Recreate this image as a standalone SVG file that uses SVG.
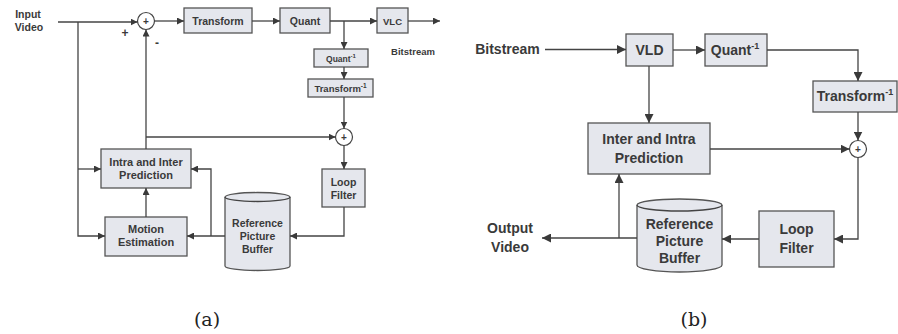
<svg xmlns="http://www.w3.org/2000/svg" width="898" height="334" viewBox="0 0 898 334">
<defs>
<marker id="ah" viewBox="0 0 10 10" refX="10" refY="5" markerWidth="7" markerHeight="7" markerUnits="userSpaceOnUse" orient="auto">
<path d="M0,0 L10,5 L0,10 Z" fill="#3a3a3a"/>
</marker>
<marker id="ahb" viewBox="0 0 10 10" refX="10" refY="5" markerWidth="9" markerHeight="9" markerUnits="userSpaceOnUse" orient="auto">
<path d="M0,0 L10,5 L0,10 Z" fill="#3a3a3a"/>
</marker>
</defs>
<style>
.box{fill:#e5e7ed;stroke:#555;stroke-width:1.3}
.sum{fill:#fff;stroke:#444;stroke-width:1.2}
.ln{fill:none;stroke:#444;stroke-width:1.3}
.ln a{}
.t{font-family:"Liberation Sans",Arial,sans-serif;font-weight:bold;fill:#3a3a3a;text-anchor:middle}
.s{font-size:10.5px}
.l{font-size:14px}
.cap{font-family:"DejaVu Serif","Liberation Serif",serif;font-size:19px;fill:#222;text-anchor:middle}
</style>
<rect width="898" height="334" fill="#fff"/>

<!-- (a) encoder -->
<g id="a-input"><text class="t s" x="28" y="18">Input</text><text class="t s" x="29" y="30.5">Video</text></g>
<g id="a-sum1"><circle class="sum" cx="146" cy="21" r="8.5"/><text class="t" x="146" y="25" font-size="10">+</text></g>
<g id="a-plus"><text class="t" x="125" y="37" font-size="12">+</text></g>
<g id="a-minus"><text class="t" x="157" y="47" font-size="12">-</text></g>
<g id="a-transform"><rect class="box" x="184" y="8" width="68" height="25"/><text class="t s" x="218" y="25">Transform</text></g>
<g id="a-quant"><rect class="box" x="280" y="8" width="50" height="25"/><text class="t s" x="305" y="25">Quant</text></g>
<g id="a-vlc"><rect class="box" x="377" y="8" width="31" height="25"/><text class="t" x="392.5" y="24.5" font-size="9.5">VLC</text></g>
<g id="a-bitstream"><text class="t" x="413" y="55" font-size="9.5">Bitstream</text></g>
<g id="a-iquant"><rect class="box" x="314" y="49" width="54" height="18"/><text class="t" x="341" y="62" font-size="8.5">Quant<tspan font-size="6" dy="-4">-1</tspan></text></g>
<g id="a-itransform"><rect class="box" x="308" y="79" width="65" height="18"/><text class="t" x="340.5" y="92" font-size="9.5">Transform<tspan font-size="6.5" dy="-4">-1</tspan></text></g>
<g id="a-sum2"><circle class="sum" cx="344" cy="137" r="8.5"/><text class="t" x="344" y="141" font-size="10">+</text></g>
<g id="a-loop"><rect class="box" x="322" y="169" width="43" height="38"/><text class="t s" x="343.5" y="185.5">Loop</text><text class="t s" x="343.5" y="198.5">Filter</text></g>
<g id="a-refbuf"><path class="box" d="M225,197 A32.5,4.5 0 0 1 290,197 V266 A32.5,4.5 0 0 1 225,266 Z"/><path class="ln" d="M225,197 A32.5,4.5 0 0 0 290,197" stroke="#555"/><text class="t s" x="257.5" y="227">Reference</text><text class="t s" x="257.5" y="240">Picture</text><text class="t s" x="257.5" y="253">Buffer</text></g>
<g id="a-pred"><rect class="box" x="101" y="149" width="90" height="39"/><text class="t" x="146" y="166" font-size="11">Intra and Inter</text><text class="t" x="146" y="178.5" font-size="11">Prediction</text></g>
<g id="a-me"><rect class="box" x="105" y="217" width="82" height="39"/><text class="t" x="146" y="233" font-size="11">Motion</text><text class="t" x="146" y="246" font-size="11">Estimation</text></g>

<!-- (b) decoder -->
<g id="b-bitstream"><text class="t l" x="507.5" y="54">Bitstream</text></g>
<g id="b-vld"><rect class="box" x="626" y="34" width="47" height="32"/><text class="t l" x="649.5" y="55">VLD</text></g>
<g id="b-iquant"><rect class="box" x="705" y="34" width="62" height="32"/><text class="t l" x="735" y="55">Quant<tspan font-size="9" dy="-6">-1</tspan></text></g>
<g id="b-itransform"><rect class="box" x="813" y="81" width="84" height="31"/><text class="t l" x="855" y="101">Transform<tspan font-size="9" dy="-6">-1</tspan></text></g>
<g id="b-sum"><circle class="sum" cx="858" cy="149" r="8.5"/><text class="t" x="858" y="153" font-size="10">+</text></g>
<g id="b-pred"><rect class="box" x="588" y="123" width="122" height="51"/><text class="t l" x="649" y="144">Inter and Intra</text><text class="t l" x="649" y="163">Prediction</text></g>
<g id="b-loop"><rect class="box" x="759" y="211" width="75" height="56"/><text class="t l" x="796.5" y="234">Loop</text><text class="t l" x="796.5" y="253">Filter</text></g>
<g id="b-refbuf"><path class="box" d="M637,205 A42.5,6 0 0 1 722,205 V265 A42.5,7 0 0 1 637,265 Z"/><path class="ln" d="M637,205 A42.5,6 0 0 0 722,205" stroke="#555"/><text class="t l" x="679.5" y="229">Reference</text><text class="t l" x="679.5" y="246">Picture</text><text class="t l" x="679.5" y="263">Buffer</text></g>
<g id="b-output"><text class="t l" x="510" y="233">Output</text><text class="t l" x="510" y="252">Video</text></g>

<g id="captions"><text class="cap" x="207" y="326">(a)</text><text class="cap" x="694" y="326">(b)</text></g>

<g id="connectors">
<path class="ln" d="M58,22 H137.5" marker-end="url(#ah)"/>
<path class="ln" d="M78,22 V236 H105" marker-end="url(#ah)"/>
<path class="ln" d="M78,169 H101" marker-end="url(#ah)"/>
<path class="ln" d="M146,149 V29.5" marker-end="url(#ah)"/>
<path class="ln" d="M146,137 H335.5" marker-end="url(#ah)"/>
<path class="ln" d="M154.5,21 H184" marker-end="url(#ah)"/>
<path class="ln" d="M252,21 H280" marker-end="url(#ah)"/>
<path class="ln" d="M330,21 H377" marker-end="url(#ah)"/>
<path class="ln" d="M408,21 H440" marker-end="url(#ah)"/>
<path class="ln" d="M344,21 V49" marker-end="url(#ah)"/>
<path class="ln" d="M344,67 V79" marker-end="url(#ah)"/>
<path class="ln" d="M344,97 V128.5" marker-end="url(#ah)"/>
<path class="ln" d="M344,145.5 V169" marker-end="url(#ah)"/>
<path class="ln" d="M344,207 V236 H290" marker-end="url(#ah)"/>
<path class="ln" d="M225,236 H187" marker-end="url(#ah)"/>
<path class="ln" d="M211,236 V169 H191" marker-end="url(#ah)"/>
<path class="ln" d="M146,217 V188" marker-end="url(#ah)"/>

<path class="ln" d="M545,49.5 H626" marker-end="url(#ahb)"/>
<path class="ln" d="M673,50 H705" marker-end="url(#ahb)"/>
<path class="ln" d="M767,50 H858 V81" marker-end="url(#ahb)"/>
<path class="ln" d="M858,112 V140.5" marker-end="url(#ahb)"/>
<path class="ln" d="M649,66 V123" marker-end="url(#ahb)"/>
<path class="ln" d="M710,149 H849.5" marker-end="url(#ahb)"/>
<path class="ln" d="M858,157.5 V239 H834" marker-end="url(#ahb)"/>
<path class="ln" d="M759,239 H722" marker-end="url(#ahb)"/>
<path class="ln" d="M637,238 H542" marker-end="url(#ahb)"/>
<path class="ln" d="M619,238 V174" marker-end="url(#ahb)"/>
</g>
</svg>
